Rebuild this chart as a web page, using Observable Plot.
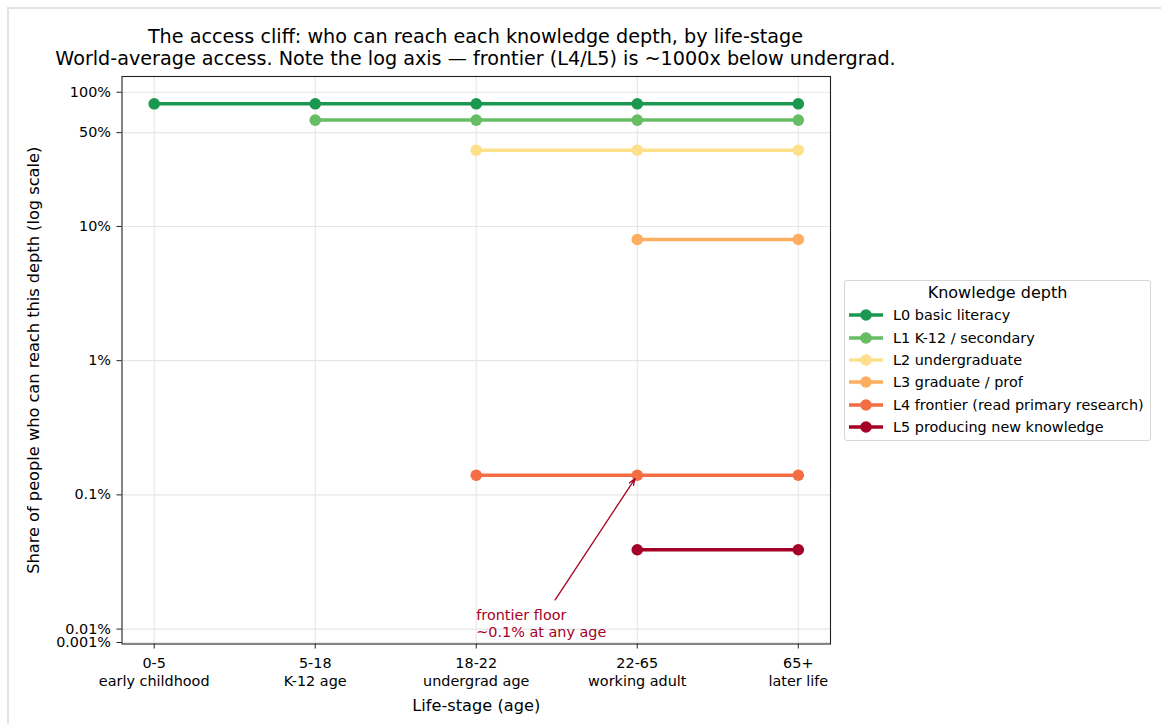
<!DOCTYPE html>
<html>
<head>
<meta charset="utf-8">
<script src="https://cdn.jsdelivr.net/npm/d3@7"></script>
<script src="https://cdn.jsdelivr.net/npm/@observablehq/plot@0.6"></script>
<style>
  body { margin: 0; background: #fff; font-family: "DejaVu Sans", sans-serif; }
  #wrap { position: relative; width: 1161px; height: 724px; overflow: hidden; background: #fff; }
  #border { position: absolute; left: 7px; top: 7px; width: 1200px; height: 800px;
            border-left: 2px solid #e3e3e3; border-top: 2px solid #e3e3e3; }
  #title { position: absolute; left: 0; top: 26px; width: 951px; text-align: center;
           font-size: 19.2px; line-height: 22.3px; color: #000; }
  #plot { position: absolute; left: 0; top: 0; }
  #legend { position: absolute; left: 844px; top: 280px; width: 305px; height: 159px;
            border: 1px solid #d6d6d6; border-radius: 3px; background: #fff; }
  #legend .ltitle { position: absolute; left: 0; width: 100%; top: 1px; text-align: center;
                    font-size: 16px; line-height: 22px; }
  #legend .row { position: absolute; left: 4px; height: 20px; display: flex; align-items: center;
                 font-size: 14.4px; white-space: nowrap; }
  #legend .row svg { margin-right: 10px; }
</style>
</head>
<body>
<div id="wrap">
  <div id="border"></div>
  <div id="plot"></div>
  <div id="title">The access cliff: who can reach each knowledge depth, by life-stage<br>World-average access. Note the log axis — frontier (L4/L5) is ~1000x below undergrad.</div>
  <div id="legend"></div>
</div>
<script>
// ---- data ----
const stages = ["0-5", "5-18", "18-22", "22-65", "65+"];
const stageDesc = ["early childhood", "K-12 age", "undergrad age", "working adult", "later life"];
const levels = [
  "L0 basic literacy",
  "L1 K-12 / secondary",
  "L2 undergraduate",
  "L3 graduate / prof",
  "L4 frontier (read primary research)",
  "L5 producing new knowledge"
];
const levelColors = ["#1a9850", "#66bd63", "#fee08b", "#fdae61", "#f46d43", "#a50026"];
// share (%) of people who can reach each depth, per life-stage (null = not reachable at that stage)
const accessL0 = [82, 82, 82, 82, 82];
const accessL1 = [null, 62, 62, 62, 62];
const accessL2 = [null, null, 37, 37, 37];
const accessL3 = [null, null, null, 8, 8];
const accessL4 = [null, null, 0.14, 0.14, 0.14];
const accessL5 = [null, null, null, 0.039, 0.039];
const yTickValues = [100, 50, 10, 1, 0.1, 0.01, 0.001];
const yTickLabels = ["100%", "50%", "10%", "1%", "0.1%", "0.01%", "0.001%"];
const annotationText = "frontier floor\n~0.1% at any age";

// ---- symmetric-log transform (linear below 0.01%, log above) ----
const linthresh = 0.01, linscaleAdj = 0.1 / (1 - 1 / 10);
function symlog(p) {
  return p <= linthresh ? (p / linthresh) * linscaleAdj : linscaleAdj + Math.log10(p / linthresh);
}

const series = [accessL0, accessL1, accessL2, accessL3, accessL4, accessL5];
const rowsByLevel = series.map((vals, li) =>
  vals.map((v, si) => ({stage: si, level: levels[li], value: v, yt: v == null ? null : symlog(v)}))
      .filter(d => d.value != null)
);
const yTicksT = yTickValues.map(symlog);
const font = "DejaVu Sans";
const tickFs = 14.4, labelFs = 16.2;

const marks = [
  Plot.gridY(yTicksT, {stroke: "#e6e6e6", strokeOpacity: 1, strokeWidth: 1.1}),
  Plot.gridX(d3.range(stages.length), {stroke: "#e6e6e6", strokeOpacity: 1, strokeWidth: 1.1})
];
rowsByLevel.forEach((rows, li) => {
  marks.push(Plot.line(rows, {x: "stage", y: "yt", stroke: levelColors[li], strokeWidth: 3.5}));
  marks.push(Plot.dot(rows, {x: "stage", y: "yt", fill: levelColors[li], r: 5.8, stroke: "none"}));
});
marks.push(
  Plot.frame({stroke: "#222", strokeWidth: 1.1}),
  Plot.axisY(yTicksT, {
    tickSize: 5, tickPadding: 6, fontSize: tickFs, label: null, stroke: "#222",
    tickFormat: d => yTickLabels[yTicksT.findIndex(t => Math.abs(t - d) < 1e-9)]
  }),
  Plot.axisX(d3.range(stages.length), {
    tickSize: 5, tickPadding: 7, fontSize: tickFs, label: null, stroke: "#222", lineHeight: 1.2,
    tickFormat: i => stages[i] + "\n" + stageDesc[i]
  }),
  Plot.text(["Life-stage (age)"], {frameAnchor: "bottom", dy: 61.5, lineAnchor: "middle", fontSize: labelFs}),
  Plot.text(["Share of people who can reach this depth (log scale)"],
    {frameAnchor: "left", dx: -88, rotate: -90, textAnchor: "middle", lineAnchor: "middle", fontSize: labelFs}),
  Plot.arrow([{x1: 2.49, y1: symlog(0.0165), x2: 3, y2: symlog(0.14)}], {
    x1: "x1", y1: "y1", x2: "x2", y2: "y2", stroke: "#a50026", strokeWidth: 1.3,
    headLength: 8, headAngle: 40, insetEnd: 4
  }),
  Plot.text([annotationText], {
    x: 2, y: symlog(0.005), text: d => d, textAnchor: "start", lineAnchor: "bottom",
    lineHeight: 1.17, fill: "#a50026", fontSize: tickFs
  })
);

const chart = Plot.plot({
  width: 1161, height: 724,
  marginLeft: 121.5, marginRight: 331, marginTop: 76, marginBottom: 80.5,
  style: {fontFamily: font, fontSize: tickFs + "px", color: "#000", background: "transparent", overflow: "visible"},
  x: {type: "linear", domain: [-0.2, 4.2]},
  y: {type: "linear", domain: [0, symlog(131)]},
  marks
});
document.getElementById("plot").appendChild(chart);

// ---- legend ----
const legend = document.getElementById("legend");
const lt = document.createElement("div");
lt.className = "ltitle";
lt.textContent = "Knowledge depth";
legend.appendChild(lt);
levels.forEach((name, i) => {
  const row = document.createElement("div");
  row.className = "row";
  row.style.top = (24.3 + 22.3 * i) + "px";
  const ns = "http://www.w3.org/2000/svg";
  const svg = document.createElementNS(ns, "svg");
  svg.setAttribute("width", "34"); svg.setAttribute("height", "14");
  const line = document.createElementNS(ns, "line");
  line.setAttribute("x1", "0"); line.setAttribute("x2", "34");
  line.setAttribute("y1", "7"); line.setAttribute("y2", "7");
  line.setAttribute("stroke", levelColors[i]); line.setAttribute("stroke-width", "3.5");
  const c = document.createElementNS(ns, "circle");
  c.setAttribute("cx", "17"); c.setAttribute("cy", "7"); c.setAttribute("r", "5.8");
  c.setAttribute("fill", levelColors[i]);
  svg.appendChild(line); svg.appendChild(c);
  const span = document.createElement("span");
  span.textContent = name;
  row.appendChild(svg); row.appendChild(span);
  legend.appendChild(row);
});
</script>
</body>
</html>
